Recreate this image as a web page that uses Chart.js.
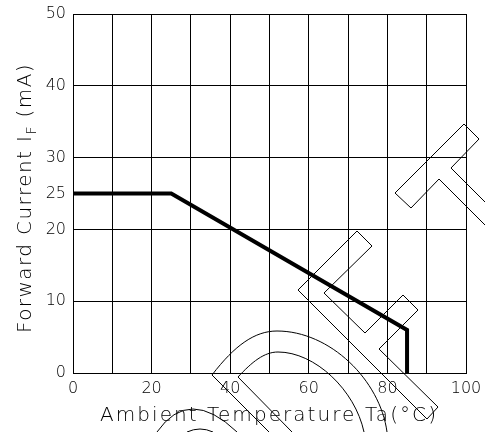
<!DOCTYPE html>
<html>
<head>
<meta charset="utf-8">
<script src="https://cdn.jsdelivr.net/npm/chart.js@4/dist/chart.umd.min.js"></script>
<style>
  html, body { margin: 0; padding: 0; background: #fff; }
  #wrap { width: 485px; height: 432px; position: relative; }
</style>
</head>
<body>
<div id="wrap"><canvas id="chart" width="485" height="432"></canvas></div>
<script>
// ---------------------------------------------------------
// Forward current derating curve
// ---------------------------------------------------------

// data
const tempValues = [0, 25, 85, 85];        // Ta (°C)
const currentValues = [25, 25, 6, 0];      // IF (mA)
const xTickLabels = [0, 20, 40, 60, 80, 100];
const yTickValues = [0, 10, 20, 25, 30, 40, 50];

const TEXT_COLOR = "#000";
const FONT = '"DejaVu Sans", sans-serif';
const WEIGHT = 200;

// faint outline stamp over the plot (decoration only, pixel coords)
const stampPolys = [
  [[485,202],[451,168],[479,139],[464,124],[395,193],[411,208],[439,179],[485,225]],
  [[298,290],[357,231],[372,246],[324,293],[365,333],[403,295],[418,310],[379,349],[438,407],[427,419],[298,290]]
];

function drawStamp(ctx) {
  ctx.save();
  ctx.strokeStyle = "#000";
  ctx.lineWidth = 1;
  stampPolys.forEach(p => {
    ctx.beginPath();
    ctx.moveTo(p[0][0], p[0][1]);
    for (let i = 1; i < p.length; i++) ctx.lineTo(p[i][0], p[i][1]);
    ctx.stroke();
  });
  // big arcs
  ctx.beginPath();
  ctx.moveTo(269, 432); ctx.lineTo(212, 375);
  ctx.bezierCurveTo(235, 345, 255, 331, 277, 331);
  ctx.bezierCurveTo(330, 331, 380, 380, 387, 432);
  ctx.stroke();
  ctx.beginPath();
  ctx.moveTo(292, 432); ctx.lineTo(238, 377);
  ctx.bezierCurveTo(252, 362, 264, 352, 278, 352);
  ctx.bezierCurveTo(315, 352, 355, 390, 364, 432);
  ctx.stroke();
  // small arcs at the bottom
  ctx.beginPath();
  ctx.moveTo(157, 432); ctx.quadraticCurveTo(189, 386, 237, 432);
  ctx.stroke();
  ctx.beginPath();
  ctx.moveTo(187, 432); ctx.quadraticCurveTo(200, 426, 213, 432);
  ctx.stroke();
  ctx.restore();
}

// draw text spread to a given length
function spreadParts(ctx, parts, x0, y0, length) {
  let natural = 0, chars = 0;
  parts.forEach(p => {
    ctx.font = WEIGHT + " " + p.size + "px " + FONT;
    ctx.letterSpacing = "0px";
    natural += ctx.measureText(p.text).width;
    chars += p.text.length;
  });
  const ls = Math.max(0, (length - natural) / chars);
  let x = x0;
  parts.forEach(p => {
    ctx.font = WEIGHT + " " + p.size + "px " + FONT;
    ctx.letterSpacing = ls + "px";
    ctx.fillText(p.text, x, y0 + (p.dy || 0));
    x += ctx.measureText(p.text).width;
  });
}

const axisTitles = {
  id: "axisTitles",
  afterDraw(chart) {
    const ctx = chart.ctx;
    ctx.save();
    ctx.fillStyle = TEXT_COLOR;
    ctx.textAlign = "left";
    ctx.textBaseline = "alphabetic";
    spreadParts(ctx, [{ text: "Ambient Temperature Ta(°C)", size: 20 }], 100, 421, 338);
    ctx.translate(31, 333);
    ctx.rotate(-Math.PI / 2);
    spreadParts(ctx, [
      { text: "Forward Current I", size: 20 },
      { text: "F", size: 14, dy: 5 },
      { text: " (mA)", size: 20 }
    ], 0, 0, 270);
    ctx.restore();
  }
};

const stamp = {
  id: "stamp",
  beforeDatasetsDraw(chart) { drawStamp(chart.ctx); }
};

new Chart(document.getElementById("chart"), {
  type: "line",
  data: {
    datasets: [{
      data: tempValues.map((t, i) => ({ x: t, y: currentValues[i] })),
      borderColor: "#000",
      borderWidth: 4,
      borderJoinStyle: "miter",
      pointRadius: 0,
      tension: 0,
      fill: false
    }]
  },
  options: {
    responsive: false,
    animation: false,
    layout: { padding: { top: 14, right: 19, left: 0, bottom: 0 } },
    plugins: { legend: { display: false }, tooltip: { enabled: false } },
    scales: {
      x: {
        type: "linear",
        min: 0, max: 100,
        afterFit: s => { s.height = 59; s.paddingLeft = 0; s.paddingRight = 0; },
        grid: { color: "#000", lineWidth: 1, drawTicks: false },
        border: { color: "#000", width: 1 },
        ticks: {
          stepSize: 10, autoSkip: false, maxRotation: 0, padding: 6,
          color: TEXT_COLOR, font: { family: FONT, size: 16, weight: WEIGHT },
          callback: v => xTickLabels.includes(v) ? String(v) : ""
        }
      },
      y: {
        type: "linear",
        min: 0, max: 50,
        afterFit: s => { s.width = 73; s.paddingTop = 0; s.paddingBottom = 0; },
        afterBuildTicks: s => { s.ticks = yTickValues.map(v => ({ value: v })); },
        grid: {
          color: c => (c.tick && c.tick.value === 25) ? "rgba(0,0,0,0)" : "#000",
          lineWidth: 1, drawTicks: false
        },
        border: { color: "#000", width: 1 },
        ticks: {
          autoSkip: false, padding: 7,
          color: TEXT_COLOR, font: { family: FONT, size: 16, weight: WEIGHT }
        }
      }
    }
  },
  plugins: [stamp, axisTitles]
});
</script>
</body>
</html>
